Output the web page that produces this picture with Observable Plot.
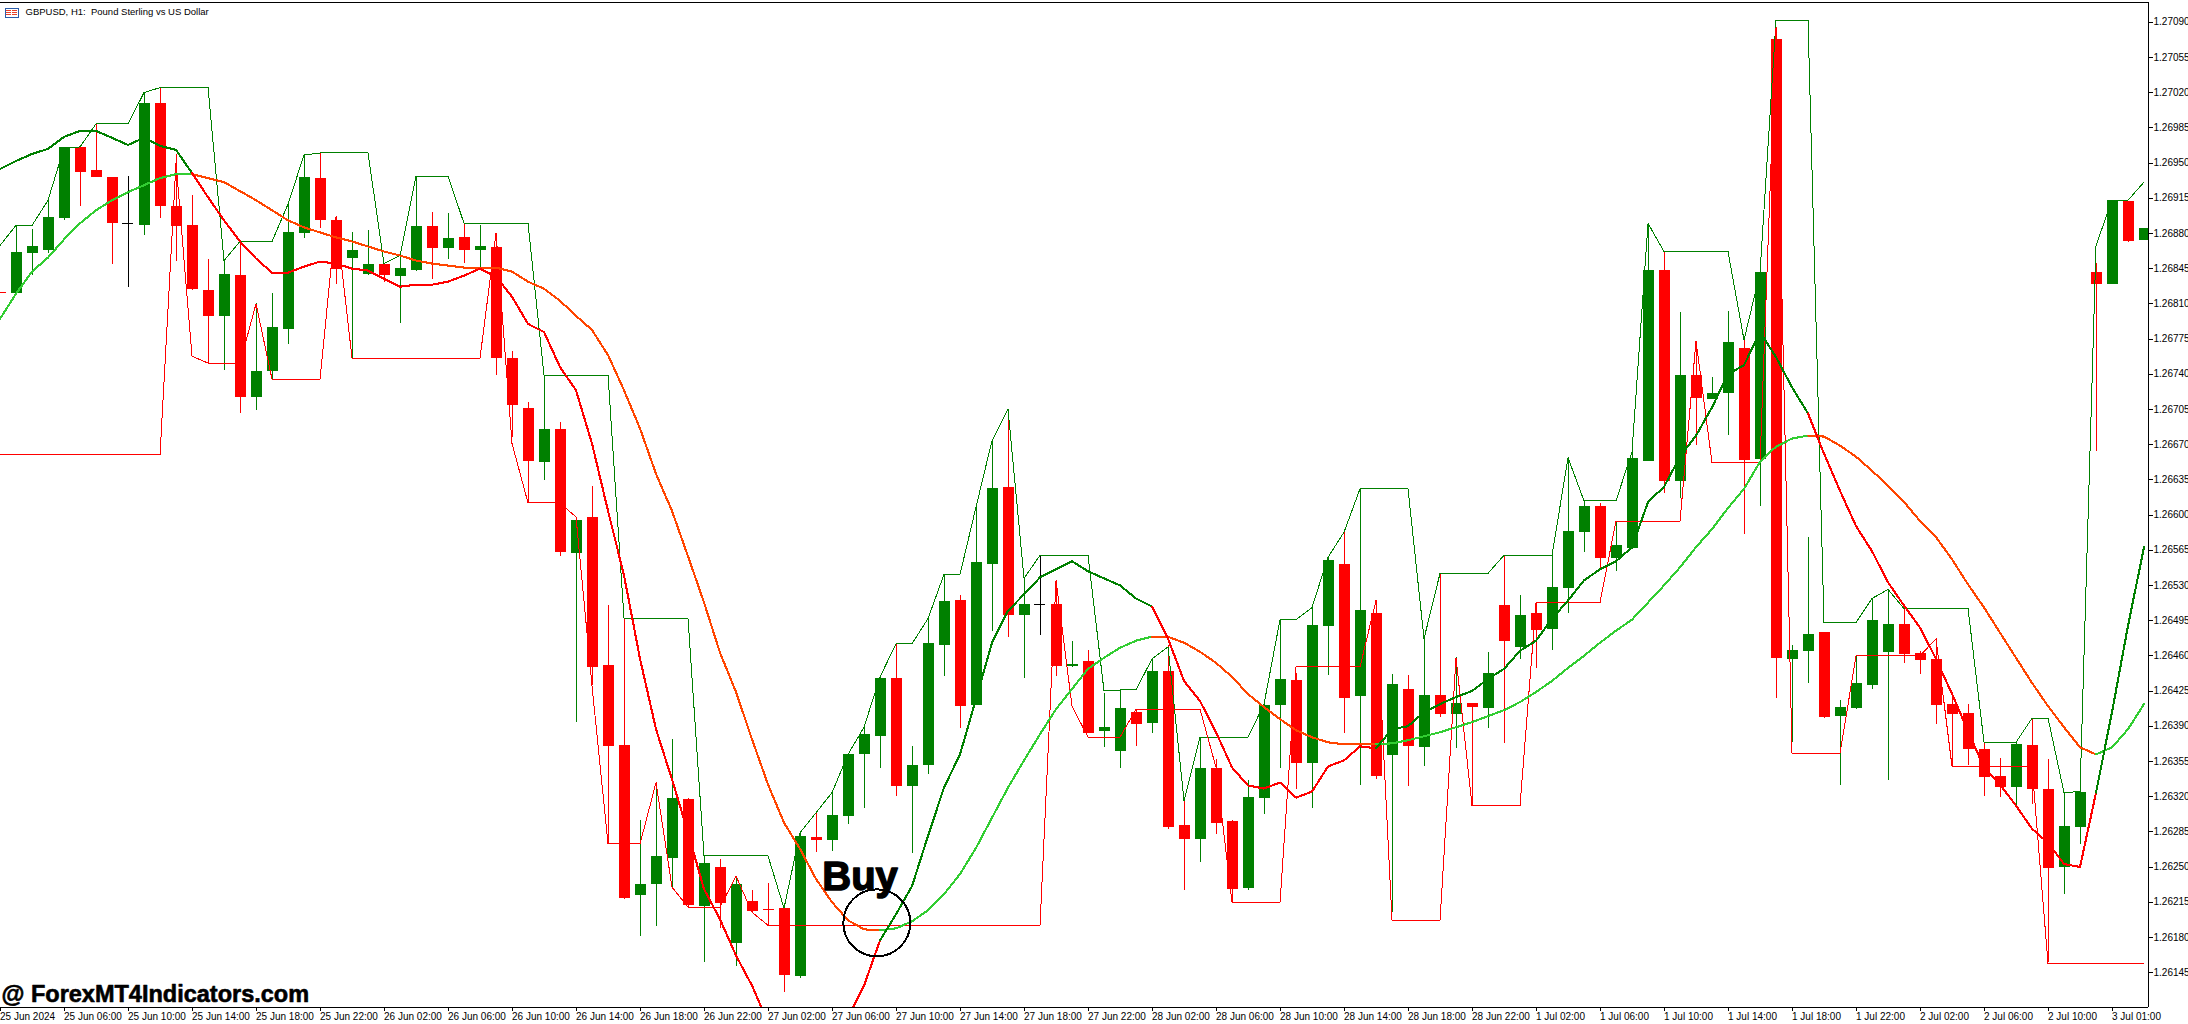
<!DOCTYPE html>
<html><head><meta charset="utf-8">
<style>html,body{margin:0;padding:0;background:#fff}svg{display:block}</style>
<script src="https://cdn.jsdelivr.net/npm/d3@7"></script>
<script src="https://cdn.jsdelivr.net/npm/@observablehq/plot@0.6"></script>
</head><body>
<div id="chart"></div>
<script>
// All prices are points above 1.26000 (1 point = 0.00001)
const BASE = 1.26;
const opens = [821,820,860,863,895,965,943,936,890,888,1009,907,888,823,797,838,717,743,784,880,935,893,855,839,849,837,843,887,865,876,863,866,756,706,652,685,562,598,450,371,222,233,258,317,211,250,174,216,208,209,141,279,276,300,362,380,437,330,351,470,515,411,551,627,500,511,511,449,454,385,365,404,393,444,291,277,348,295,229,318,411,435,353,489,551,420,502,361,426,369,421,402,413,408,510,468,502,486,527,583,608,557,567,653,843,633,739,715,721,766,655,1073,456,464,483,400,408,430,463,491,462,456,412,403,367,340,329,371,327,250,289,841,829,912,873];
const highs = [821,888,884,913,965,966,989,936,937,1020,1025,958,918,854,853,871,810,820,909,957,960,897,881,883,849,858,937,901,900,890,888,879,763,712,739,692,597,628,510,497,296,334,377,318,261,257,241,227,234,209,284,304,324,362,389,438,471,370,497,540,520,608,674,704,537,560,535,474,465,423,426,407,457,470,316,379,357,296,336,417,496,442,508,559,583,626,515,441,440,477,542,458,413,463,560,520,513,560,657,614,611,594,663,890,861,801,773,737,802,774,841,1085,470,578,483,416,460,517,526,507,464,477,424,412,374,358,374,397,357,324,325,850,913,912,885];
const lows = [820,820,838,860,893,907,936,849,826,878,895,852,823,751,744,701,704,735,770,875,885,829,756,838,831,790,842,834,854,850,845,739,677,612,634,559,394,430,273,218,181,191,228,210,155,189,151,205,192,125,139,264,265,292,308,348,320,263,342,439,388,411,484,478,437,480,439,448,383,369,348,370,383,287,227,254,282,215,227,302,348,327,308,440,383,331,337,205,330,350,399,368,311,388,373,456,447,465,502,563,546,544,566,653,621,616,669,715,679,581,608,418,374,432,398,331,407,426,336,452,441,392,350,351,320,319,311,312,155,223,272,663,829,871,873];
const closes = [820,861,867,896,965,941,936,890,890,1009,907,887,824,797,839,717,743,786,881,936,893,844,863,849,838,845,887,865,875,863,867,756,709,653,685,563,595,448,370,219,233,260,318,212,253,214,233,206,207,142,280,276,301,362,382,437,330,351,472,514,410,553,626,500,511,511,449,451,383,389,408,392,444,289,277,348,293,228,319,411,436,353,490,555,418,505,340,431,370,421,402,413,409,442,474,500,485,528,584,608,557,570,656,843,633,739,716,721,772,654,841,457,465,481,399,409,432,495,491,461,455,411,402,367,339,329,372,327,249,290,324,829,913,872,885];

const fastMA = [944,952,959,964,976,982,982,975,968,975,967,963,940,916,893,872,855,841,841,847,852,850,845,843,835,827,829,829,832,838,845,837,817,790,782,747,724,671,604,540,457,387,337,284,228,198,162,132,95,70,62,60,68,100,132,177,203,231,281,329,362,417,473,505,521,538,546,554,544,537,530,517,509,477,435,415,384,349,331,328,334,319,325,350,356,370,368,387,390,404,412,419,425,437,447,465,475,497,515,535,546,554,568,613,628,658,679,707,740,749,782,757,727,701,661,624,589,564,533,510,488,457,422,385,349,332,311,288,274,253,250,324,404,490,568];
const slowMA = [795,820,842,856,874,890,903,913,921,928,935,939,939,935,931,922,913,903,893,886,881,876,872,867,862,858,853,850,848,846,846,846,842,832,825,813,798,784,759,724,686,641,604,559,513,463,424,377,332,294,268,238,215,197,188,187,189,196,207,223,243,269,299,329,356,382,407,427,447,458,468,475,479,479,473,464,453,439,422,409,397,386,379,374,372,372,372,373,376,380,384,389,394,400,406,414,424,435,448,460,473,485,496,513,530,548,568,586,607,626,653,668,676,679,678,669,658,644,629,613,594,578,556,531,508,483,458,433,410,389,369,362,369,387,412];
const fastTurns = [[0,12,"#008000"],[12,55,"#ff0000"],[55,72,"#008000"],[72,86,"#ff0000"],[86,113,"#008000"],[113,131,"#ff0000"],[131,134,"#008000"]];
const slowTurns = [[0,12,"#32cd32"],[12,55,"#ff4500"],[55,72,"#32cd32"],[72,86,"#ff4500"],[86,113,"#32cd32"],[113,131,"#ff4500"],[131,134,"#32cd32"]];

const upperBars = [0,1,2,3,4,5,6,8,9,10,13,14,15,17,18,19,20,23,24,25,26,28,29,33,34,38,39,43,44,48,49,50,52,53,54,55,56,57,58,59,60,61,62,63,64,65,68,69,70,71,72,73,74,75,78,79,80,81,82,83,84,85,88,89,90,93,94,97,98,99,101,102,103,104,108,109,110,111,113,114,116,117,118,119,123,124,126,127,128,129,130,131,132,133,134];
const upperVals = [868,888,888,913,965,966,989,989,1020,1025,1025,853,872,872,909,958,960,960,850,858,937,937,890,890,739,739,497,497,261,261,209,284,324,362,389,439,472,472,497,541,541,608,674,705,537,560,560,425,426,426,457,469,316,379,379,412,496,496,508,558,583,626,626,477,542,542,560,560,657,614,614,663,890,862,862,774,841,1092,1092,493,493,517,526,507,507,374,374,398,398,324,325,868,913,913,931];
const lowerBars = [0,10,11,12,13,15,16,17,20,21,22,30,31,32,33,35,36,37,38,40,41,42,43,45,46,47,48,65,66,67,68,70,71,75,76,77,80,81,85,86,87,90,91,92,95,96,100,101,105,106,107,110,111,112,115,116,120,121,122,127,128,134];
const lowerVals = [660,660,950,758,751,751,810,735,735,896,756,756,880,671,612,612,598,430,273,273,334,230,210,210,241,205,192,192,535,410,379,379,407,407,349,215,215,449,449,515,197,197,458,311,311,513,513,594,594,773,652,652,1085,363,363,460,460,477,350,350,154,154];

const xLabels = ["25 Jun 2024","25 Jun 06:00","25 Jun 10:00","25 Jun 14:00","25 Jun 18:00","25 Jun 22:00","26 Jun 02:00","26 Jun 06:00","26 Jun 10:00","26 Jun 14:00","26 Jun 18:00","26 Jun 22:00","27 Jun 02:00","27 Jun 06:00","27 Jun 10:00","27 Jun 14:00","27 Jun 18:00","27 Jun 22:00","28 Jun 02:00","28 Jun 06:00","28 Jun 10:00","28 Jun 14:00","28 Jun 18:00","28 Jun 22:00","1 Jul 02:00","1 Jul 06:00","1 Jul 10:00","1 Jul 14:00","1 Jul 18:00","1 Jul 22:00","2 Jul 02:00","2 Jul 06:00","2 Jul 10:00","3 Jul 01:00"];
const yLabels = ["1.26145","1.26180","1.26215","1.26250","1.26285","1.26320","1.26355","1.26390","1.26425","1.26460","1.26495","1.26530","1.26565","1.26600","1.26635","1.26670","1.26705","1.26740","1.26775","1.26810","1.26845","1.26880","1.26915","1.26950","1.26985","1.27020","1.27055","1.27090"];
const chartTitle = "GBPUSD, H1:  Pound Sterling vs US Dollar";
const watermark = "@ ForexMT4Indicators.com";

const price = v => BASE + v / 1e5;
const bars = opens.map((o, i) => ({
  i, open: price(o), high: price(highs[i]), low: price(lows[i]), close: price(closes[i]),
  color: o === closes[i] ? "#000000" : closes[i] > o ? "#008000" : "#ff0000"
}));
const segments = (vals, turns) => turns.flatMap(([a, b, color], seg) =>
  d3.range(a, b + 1).map(i => ({i, v: price(vals[i]), color, seg})));
const upper = upperBars.map((i, k) => ({i, v: price(upperVals[k])}));
const lower = lowerBars.map((i, k) => ({i, v: price(lowerVals[k])}));
const xDom = [0.03, 134.28], yDom = [1.261103, 1.271096];
const FONT = "Liberation Sans";

const icon = (index, scales, values, dim, ctx) => {
  const g = d3.select(ctx.document.createElementNS("http://www.w3.org/2000/svg", "g"));
  g.append("rect").attr("x", 5).attr("y", 8).attr("width", 13).attr("height", 9).attr("fill", "#fff").attr("stroke", "#2a5caa");
  for (const y of [10, 12, 14]) {
    g.append("line").attr("x1", 6).attr("x2", 11).attr("y1", y).attr("y2", y).attr("stroke", "#e8402a");
    g.append("line").attr("x1", 12).attr("x2", 17).attr("y1", y).attr("y2", y).attr("stroke", "#e8402a");
  }
  return g.node();
};

const chart = Plot.plot({
  width: 2188, height: 1024,
  marginLeft: 0, marginRight: 40, marginTop: 2, marginBottom: 17,
  style: {background: "#fff", shapeRendering: "crispEdges", fontFamily: FONT, fontSize: "10px", color: "#000", overflow: "visible"},
  x: {type: "linear", domain: xDom, range: [0, 2148]},
  y: {domain: yDom, range: [1007, 2]},
  color: {type: "identity"},
  marks: [
    Plot.ruleX(bars, {x: "i", y1: "high", y2: "low", stroke: "color", strokeWidth: 1, clip: true}),
    Plot.ruleX(bars.filter(d => d.open !== d.close), {x: "i", y1: "open", y2: "close", stroke: "color", strokeWidth: 11, clip: true}),
    Plot.ruleY(bars.filter(d => d.open === d.close), {x1: d => d.i - 0.34, x2: d => d.i + 0.34, y: "open", stroke: "#000", strokeWidth: 1, clip: true}),
    Plot.line(upper, {x: "i", y: "v", stroke: "#008000", strokeWidth: 1, clip: true}),
    Plot.line(lower, {x: "i", y: "v", stroke: "#ff0000", strokeWidth: 1, clip: true}),
    Plot.line(segments(slowMA, slowTurns), {x: "i", y: "v", z: "seg", stroke: "color", strokeWidth: 2.1, clip: true}),
    Plot.line(segments(fastMA, fastTurns), {x: "i", y: "v", z: "seg", stroke: "color", strokeWidth: 2.1, clip: true}),
    Plot.dot([{i: 54.8, v: price(194.5)}], {x: "i", y: "v", r: 33.5, stroke: "#000", strokeWidth: 2, fill: "none", style: {shapeRendering: "auto"}}),
    Plot.text(["Buy"], {x: () => 53.75, y: () => price(240), text: d => d, fontSize: 40, fontWeight: "bold", fill: "#000", stroke: "#000", strokeWidth: 1.4, textAnchor: "middle", fontFamily: FONT}),
    Plot.text([watermark], {frameAnchor: "bottom-left", text: d => d, dx: 1, dy: -6, fontSize: 23.5, fontWeight: "bold", fill: "#000", stroke: "#000", strokeWidth: 0.6, textAnchor: "start", fontFamily: FONT}),
    Plot.text([chartTitle], {frameAnchor: "top-left", text: d => d, dx: 25, dy: 6, fontSize: 9.5, fill: "#000", textAnchor: "start", fontFamily: FONT}),
    icon,
    Plot.ruleY([yDom[0], yDom[1]], {stroke: "#000", strokeWidth: 1}),
    Plot.ruleX([xDom[1]], {stroke: "#000", strokeWidth: 1}),
    Plot.axisX(d3.range(0, 133, 4), {anchor: "bottom", tickSize: 4, tickPadding: 1, textAnchor: "start", tickFormat: i => xLabels[i / 4], label: null, fontSize: 10, fontFamily: FONT}),
    Plot.axisY(yLabels.map(Number), {anchor: "right", tickSize: 4, tickPadding: 1, tickFormat: d => d.toFixed(5), label: null, fontSize: 10, fontFamily: FONT})
  ]
});
document.getElementById("chart").appendChild(chart);
</script>
</body></html>
